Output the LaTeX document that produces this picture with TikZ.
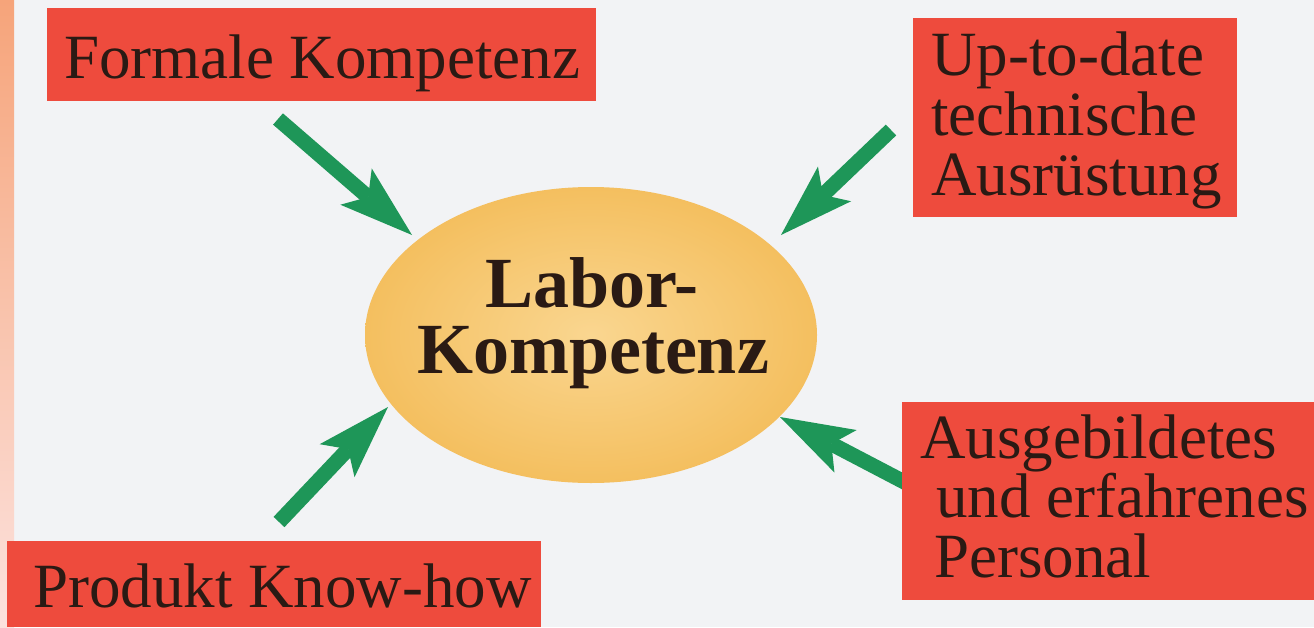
\documentclass[tikz,border=0pt]{standalone}
\usepackage{fontspec}
\setmainfont{Liberation Serif}
\usetikzlibrary{arrows.meta,shapes.geometric}
\definecolor{bg}{HTML}{F2F3F5}
\definecolor{boxred}{HTML}{EE4B3D}
\definecolor{arrgreen}{HTML}{1E9658}
\definecolor{txt}{HTML}{2A1A14}
\definecolor{goldin}{HTML}{FAD690}
\definecolor{goldout}{HTML}{F4BF5F}
\definecolor{stripTop}{HTML}{F6A47A}
\definecolor{stripBot}{HTML}{FCE2DE}
\begin{document}
\begin{tikzpicture}[x=1pt,y=-1pt,
  redbox/.style={fill=boxred, draw=none, rectangle, inner sep=0pt, anchor=north west},
  lbltext/.style={text=txt, inner sep=0pt, anchor=base west, font=\fontsize{63}{60}\selectfont},
  centertext/.style={text=txt, inner sep=0pt, anchor=base, font=\fontsize{72}{66}\selectfont\bfseries},
  arr/.style={draw=arrgreen, line width=15pt,
    -{Stealth[length=74pt,width=48pt,inset=16pt,line width=0pt,fill=arrgreen]}}]
\useasboundingbox (0,0) rectangle (1314,627);
\fill[bg] (0,0) rectangle (1314,627);
\shade[top color=stripTop, bottom color=stripBot] (0,0) rectangle (14,627);

% central ellipse
\node[ellipse, minimum width=452pt, minimum height=296pt, inner sep=0pt,
      inner color=goldin, outer color=goldout] (core) at (591,335) {};

% arrows
\coordinate (t1) at (278,119); \coordinate (h1) at (412,235);
\coordinate (t2) at (891,130); \coordinate (h2) at (781,235);
\coordinate (t3) at (279,522); \coordinate (h3) at (388,407);
\coordinate (t4) at (910,485); \coordinate (h4) at (780,417);
\draw[arr] (t1) -- (h1);
\draw[arr] (t2) -- (h2);
\draw[arr] (t3) -- (h3);
\draw[arr] (t4) -- (h4);

% red boxes
\node[redbox, minimum width=549pt, minimum height=93pt] (boxA) at (47,8) {};
\node[redbox, minimum width=324pt, minimum height=199pt] (boxB) at (913,18) {};
\node[redbox, minimum width=412pt, minimum height=198pt] (boxC) at (902,402) {};
\node[redbox, minimum width=534pt, minimum height=86pt] (boxD) at (7,541) {};

% box texts
\node[lbltext] (tA) at (64,78) {Formale Kompetenz};
\node[lbltext] (tB1) at (931,75) {Up-to-date};
\node[lbltext] (tB2) at (931,135) {technische};
\node[lbltext] (tB3) at (931,195) {Ausrüstung};
\node[lbltext] (tC1) at (920,458) {Ausgebildetes};
\node[lbltext] (tC2) at (936,517) {und erfahrenes};
\node[lbltext] (tC3) at (934,577) {Personal};
\node[lbltext] (tD) at (33,607) {Produkt Know-how};

% centre text
\node[centertext] (c1) at (592,307) {Labor-};
\node[centertext] (c2) at (593,373) {Kompetenz};
\end{tikzpicture}
\end{document}
